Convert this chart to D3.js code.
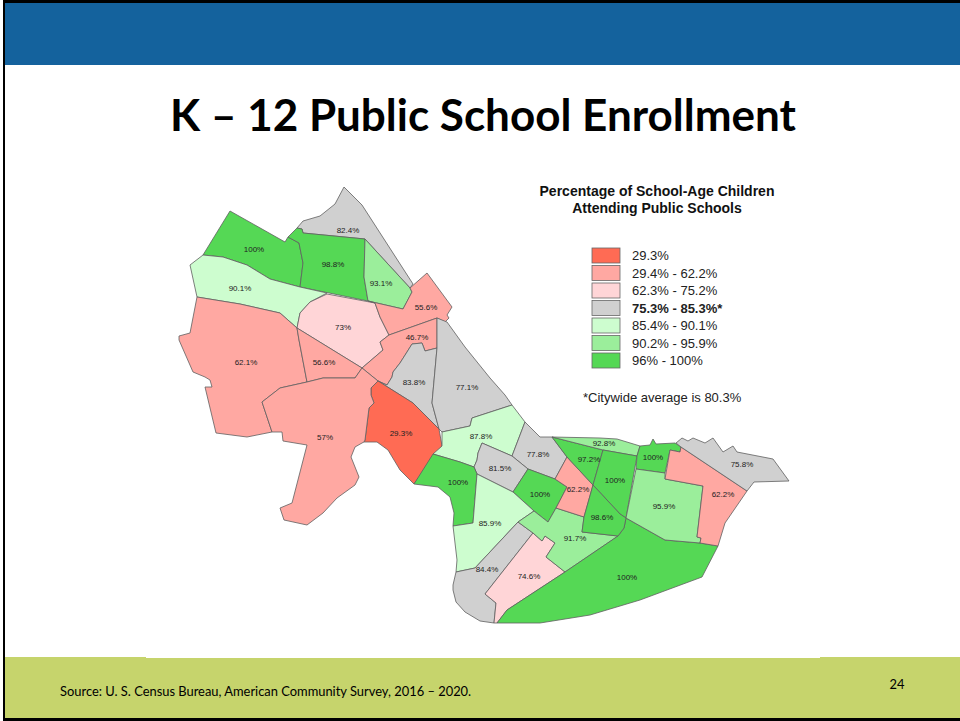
<!doctype html>
<html>
<head>
  <meta charset="utf-8">
  <script src="https://cdn.jsdelivr.net/npm/d3@7"></script>
  <style>
    html, body { margin: 0; padding: 0; background: #fff; }
    svg { display: block; }
  </style>
</head>
<body>
  <div id="viz"></div>
  <script>
    // neighbourhood values, one entry per map area
    var areaLabels = ["82.4%","100%","98.8%","93.1%","90.1%","73%","55.6%","46.7%","83.8%","77.1%",
                      "29.3%","62.1%","56.6%","57%","87.8%","77.8%","81.5%","100%","100%","85.9%",
                      "84.4%","74.6%","91.7%","100%","62.2%","97.2%","92.8%","100%","98.6%","100%",
                      "95.9%","62.2%","75.8%"];
    // legend class of each area, same order
    var areaClasses = [3,6,6,5,4,2,1,1,3,3,
                       0,1,1,1,4,3,3,6,6,4,
                       3,2,5,6,1,6,5,6,6,6,
                       5,1,3];
    // outlines in map units, same order
    var areaOutlines = [
      [[297,228],[303,221],[320,216],[335,204],[344,187],[362,205],[413,284],[410,288],[365,239],[303,233],[302,229]],
      [[230,211],[285,242],[288,237],[299,243],[303,263],[300,287],[270,279],[247,265],[223,257],[203,255]],
      [[288,237],[297,228],[302,229],[303,233],[365,239],[364,277],[368,301],[300,287],[303,263],[299,243]],
      [[365,239],[410,288],[412,292],[403,309],[368,301],[364,277]],
      [[203,255],[223,257],[247,265],[270,279],[300,287],[327,293],[310,302],[300,313],[297,328],[280,313],[240,304],[197,297],[190,265]],
      [[327,294],[375,303],[380,317],[389,335],[380,342],[383,350],[362,368],[297,328],[300,313],[310,302]],
      [[368,301],[403,309],[412,292],[410,288],[427,273],[452,307],[447,315],[449,318],[445,322],[437,318],[389,335],[380,317],[375,303]],
      [[389,335],[437,318],[437,348],[425,351],[422,343],[412,344],[407,352],[400,363],[393,372],[392,377],[387,385],[378,381],[362,368],[383,350],[380,342]],
      [[387,385],[392,377],[393,372],[400,363],[407,352],[412,344],[422,343],[425,351],[437,348],[432,403],[439,429],[413,403],[378,381]],
      [[437,318],[447,322],[465,347],[490,378],[505,395],[512,405],[472,418],[470,426],[442,432],[439,429],[432,403],[437,348]],
      [[378,381],[371,388],[371,395],[374,403],[369,408],[365,440],[364,442],[377,442],[388,450],[400,470],[414,484],[442,446],[439,429],[413,403]],
      [[197,297],[240,304],[280,313],[297,328],[299,340],[307,382],[280,388],[262,402],[272,432],[247,437],[216,433],[205,387],[212,387],[210,380],[205,377],[193,372],[179,340],[179,336],[190,333]],
      [[297,328],[362,368],[355,378],[323,378],[307,382],[299,340]],
      [[307,382],[323,378],[355,378],[362,368],[378,381],[371,388],[371,395],[374,403],[369,408],[365,440],[364,442],[362,443],[355,447],[351,457],[355,467],[359,477],[355,485],[337,498],[323,513],[307,525],[284,520],[280,508],[292,503],[307,445],[283,441],[282,432],[272,432],[262,402],[280,388]],
      [[442,432],[470,426],[472,418],[512,405],[525,422],[512,456],[482,443],[478,453],[477,460],[474,467],[460,462],[433,454],[442,446]],
      [[525,422],[540,437],[552,437],[567,457],[555,479],[528,469],[512,456]],
      [[482,443],[512,456],[528,469],[513,492],[477,474],[474,467],[477,460],[478,453]],
      [[528,469],[555,479],[567,487],[556,508],[548,522],[534,511],[513,492]],
      [[433,454],[460,462],[474,467],[477,474],[473,523],[453,526],[454,513],[450,497],[438,487],[414,484]],
      [[477,474],[513,492],[534,511],[518,522],[475,568],[456,572],[457,560],[453,526],[473,523]],
      [[518,522],[533,533],[485,594],[496,603],[494,623],[480,621],[465,612],[456,602],[453,590],[453,585],[456,572],[475,568]],
      [[533,533],[542,541],[545,536],[555,543],[546,557],[565,572],[507,610],[497,623],[494,623],[496,603],[485,594]],
      [[534,511],[548,522],[556,508],[584,517],[582,532],[618,536],[565,572],[546,557],[555,543],[545,536],[542,541],[533,533],[518,522]],
      [[497,623],[507,610],[565,572],[618,536],[624,528],[626,518],[665,540],[700,543],[718,546],[702,577],[640,600],[590,615],[540,623]],
      [[567,457],[593,485],[584,517],[556,508],[567,487],[555,479]],
      [[552,437],[603,450],[593,485],[567,457]],
      [[552,437],[600,438],[617,439],[640,446],[637,456],[603,450]],
      [[603,450],[637,456],[626,518],[620,514],[607,500],[593,485]],
      [[593,485],[607,500],[620,514],[626,518],[624,528],[618,536],[582,532],[584,517]],
      [[640,446],[650,445],[653,439],[656,444],[675,443],[681,447],[680,452],[670,450],[665,473],[636,469],[637,456]],
      [[636,469],[665,473],[665,479],[703,486],[697,537],[701,538],[700,543],[665,540],[626,518]],
      [[681,447],[747,491],[725,523],[718,546],[700,543],[701,538],[697,537],[703,486],[665,479],[670,450],[680,452]],
      [[676,443],[682,438],[688,441],[693,438],[705,443],[713,438],[723,452],[733,446],[737,452],[773,459],[789,481],[754,482],[747,491],[681,447]]
    ];
    // where each value is printed, map units, same order
    var areaLabelPoints = [[348,230],[254,249],[333,264],[381,283],[240,288],[343,327],[426,307],[417,337],[414,382],[467,387],
                           [401,433],[246,362],[324,362],[325,437],[481,436],[538,454],[500,468],[458,482],[540,494],[490,523],
                           [487,569],[529,576],[575,538],[627,577],[578,489],[589,459],[604,443],[615,480],[602,517],[653,457],
                           [664,506],[723,494],[742,464]];

    var legendLabels = ["29.3%","29.4% - 62.2%","62.3% - 75.2%","75.3% - 85.3%*","85.4% - 90.1%","90.2% - 95.9%","96% - 100%"];
    var legendColors = ["#ff6b54","#ffa8a2","#ffd5d7","#d0d0d0","#cdfdcf","#9bee9b","#55d855"];

    var width = 960, height = 721;

    var svg = d3.select("#viz").append("svg")
        .attr("width", width)
        .attr("height", height)
        .style("font-family", "'Liberation Sans', Arial, sans-serif");

    // slide frame and bands
    svg.append("rect").attr("x", 3).attr("width", width - 3).attr("height", height).attr("fill", "#000");
    svg.append("rect").attr("x", 5).attr("y", 3).attr("width", width - 5).attr("height", 715).attr("fill", "#fff");
    svg.append("rect").attr("x", 5).attr("y", 3).attr("width", width - 5).attr("height", 62).attr("fill", "#14629d");
    svg.append("rect").attr("x", 5).attr("y", 657).attr("width", width - 5).attr("height", 61).attr("fill", "#c6d46c");
    svg.append("rect").attr("x", 146).attr("y", 650).attr("width", 674).attr("height", 8).attr("fill", "#fff");

    svg.append("text")
        .attr("x", 483).attr("y", 131)
        .attr("text-anchor", "middle")
        .style("font-family", "Lato, sans-serif")
        .style("font-weight", 700)
        .style("font-size", "44px")
        .text("K – 12 Public School Enrollment");

    svg.append("text")
        .attr("x", 60).attr("y", 696)
        .style("font-family", "Lato, sans-serif")
        .style("font-size", "12.9px")
        .text("Source: U. S. Census Bureau, American Community Survey, 2016 – 2020.");

    svg.append("text")
        .attr("x", 897).attr("y", 689)
        .attr("text-anchor", "middle")
        .style("font-family", "Lato, sans-serif")
        .style("font-size", "12.9px")
        .text("24");

    // map
    var areas = areaOutlines.map(function(ring, i) {
      return {
        type: "Feature",
        properties: {label: areaLabels[i], cls: areaClasses[i], at: areaLabelPoints[i]},
        geometry: {type: "Polygon", coordinates: [ring.concat([ring[0]])]}
      };
    });

    var projection = d3.geoIdentity();
    var path = d3.geoPath(projection);
    var color = d3.scaleOrdinal().domain(d3.range(legendLabels.length)).range(legendColors);

    svg.append("g").selectAll("path")
        .data(areas)
        .enter()
        .append("path")
        .attr("d", path)
        .attr("fill", function(d) { return color(d.properties.cls); })
        .attr("stroke", "#606060")
        .attr("stroke-width", 0.8)
        .attr("stroke-linejoin", "round");

    svg.append("g").selectAll("text")
        .data(areas)
        .enter()
        .append("text")
        .attr("transform", function(d) { return "translate(" + projection(d.properties.at) + ")"; })
        .attr("text-anchor", "middle")
        .attr("dy", "0.35em")
        .style("font-size", "8px")
        .style("fill", "#222")
        .text(function(d) { return d.properties.label; });

    // legend
    var legendTitle = svg.append("g").attr("text-anchor", "middle")
        .style("font-weight", 700).style("font-size", "14px").style("fill", "#111");
    legendTitle.append("text").attr("x", 657).attr("y", 196).text("Percentage of School-Age Children");
    legendTitle.append("text").attr("x", 657).attr("y", 213).text("Attending Public Schools");

    var legendY = d3.scaleBand().domain(legendLabels).range([248, 370.5]);
    var legendRows = svg.append("g").selectAll("g")
        .data(legendLabels)
        .enter()
        .append("g")
        .attr("transform", function(d) { return "translate(592," + legendY(d) + ")"; });

    legendRows.append("rect")
        .attr("width", 28).attr("height", 15)
        .attr("fill", function(d, i) { return legendColors[i]; })
        .attr("stroke", "#666")
        .attr("stroke-width", 0.8);

    legendRows.append("text")
        .attr("x", 40).attr("y", 7.5)
        .attr("dy", "0.35em")
        .style("font-size", "13px")
        .style("fill", "#222")
        .style("font-weight", function(d, i) { return i === 3 ? 700 : 400; })
        .text(function(d) { return d; });

    svg.append("text")
        .attr("x", 583).attr("y", 402)
        .style("font-size", "13px")
        .style("fill", "#222")
        .text("*Citywide average is 80.3%");
  </script>
</body>
</html>
